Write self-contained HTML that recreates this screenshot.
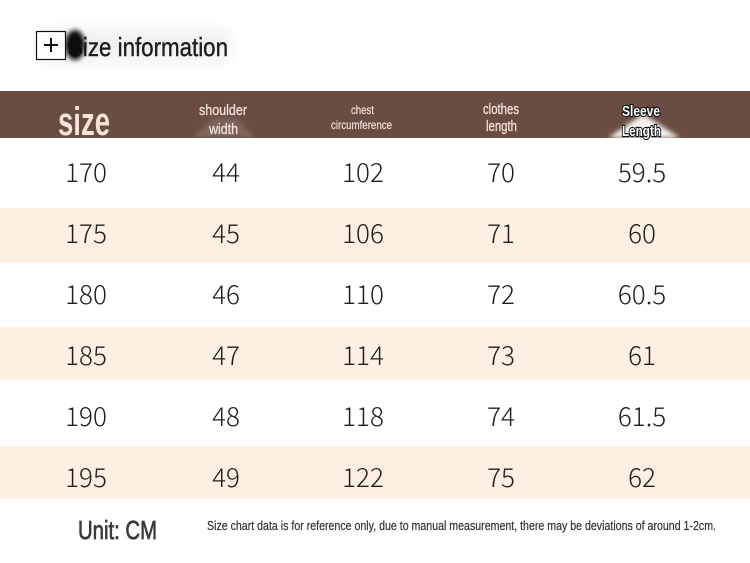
<!DOCTYPE html>
<html><head><meta charset="utf-8"><style>
html,body{margin:0;padding:0;background:#fff;}
svg{display:block;}
</style></head><body>
<svg width="750" height="563" viewBox="0 0 750 563" xmlns="http://www.w3.org/2000/svg" font-family="'Liberation Sans','Noto Sans CJK SC',sans-serif">
<defs>
<filter id="b10" x="-50%" y="-50%" width="200%" height="200%"><feGaussianBlur stdDeviation="8"/></filter>
<filter id="b3" x="-50%" y="-50%" width="200%" height="200%"><feGaussianBlur stdDeviation="2.5"/></filter>
</defs>
<rect width="750" height="563" fill="#fff"/>
<!-- title shadow band -->
<rect x="40" y="30" width="190" height="32" fill="#000" opacity="0.06" filter="url(#b10)"/>
<!-- title -->
<text x="68" y="56" font-size="26" fill="#1d1d1d" stroke="#1d1d1d" stroke-width="0.4" textLength="160" lengthAdjust="spacingAndGlyphs">Size information</text>
<ellipse cx="75" cy="45" rx="10" ry="15" fill="#111" filter="url(#b3)"/>
<rect x="36.5" y="31.5" width="29" height="28" fill="#fff" stroke="#111" stroke-width="1.2"/>
<rect x="44" y="44" width="14" height="2" fill="#111"/>
<rect x="50" y="38" width="2" height="14" fill="#111"/>

<!-- header -->
<rect x="0" y="91" width="750" height="47" fill="#6a4c43"/>
<polygon points="192,138 213,118 236,118 256,138" fill="#8a766e" opacity="0.6" filter="url(#b3)"/>
<polygon points="608,138 643,114 680,138" fill="#f4f2ee" filter="url(#b3)"/>
<rect x="0" y="138" width="750" height="6" fill="#fff"/>
<text x="58" y="135" font-size="40" font-weight="bold" fill="#f6e3da" textLength="52" lengthAdjust="spacingAndGlyphs">size</text>
<g fill="#f2e2da" stroke="#f2e2da" stroke-width="0.3" font-size="15">
<text x="199" y="115" textLength="48" lengthAdjust="spacingAndGlyphs">shoulder</text>
<text x="209" y="134" textLength="29" lengthAdjust="spacingAndGlyphs">width</text>
<text x="483" y="114" textLength="36" lengthAdjust="spacingAndGlyphs">clothes</text>
<text x="486" y="131" textLength="31" lengthAdjust="spacingAndGlyphs">length</text>
</g>
<g fill="#f2e2da" stroke="#f2e2da" stroke-width="0.2" font-size="12">
<text x="351" y="114" textLength="23" lengthAdjust="spacingAndGlyphs">chest</text>
<text x="331" y="129" textLength="61" lengthAdjust="spacingAndGlyphs">circumference</text>
</g>
<g fill="#fff" stroke="#111" stroke-width="2.2" paint-order="stroke" font-size="15" font-weight="bold">
<text x="622" y="116" textLength="38" lengthAdjust="spacingAndGlyphs">Sleeve</text>
<text x="622" y="136" textLength="39" lengthAdjust="spacingAndGlyphs">Length</text>
</g>

<!-- stripes -->
<rect x="0" y="208" width="750" height="54" fill="#fdf0e2"/>
<rect x="0" y="327" width="750" height="53" fill="#fdf0e2"/>
<rect x="0" y="446" width="750" height="53" fill="#fdf0e2"/>

<!-- values -->
<g font-family="'Noto Sans CJK SC','Liberation Sans',sans-serif" font-size="26" font-weight="300" fill="#1e1e1e" text-anchor="middle">
<text x="86" y="182">170</text><text x="226" y="182">44</text><text x="363" y="182">102</text><text x="501" y="182">70</text><text x="642" y="182">59.5</text>
<text x="86" y="243">175</text><text x="226" y="243">45</text><text x="363" y="243">106</text><text x="501" y="243">71</text><text x="642" y="243">60</text>
<text x="86" y="304">180</text><text x="226" y="304">46</text><text x="363" y="304">110</text><text x="501" y="304">72</text><text x="642" y="304">60.5</text>
<text x="86" y="365">185</text><text x="226" y="365">47</text><text x="363" y="365">114</text><text x="501" y="365">73</text><text x="642" y="365">61</text>
<text x="86" y="426">190</text><text x="226" y="426">48</text><text x="363" y="426">118</text><text x="501" y="426">74</text><text x="642" y="426">61.5</text>
<text x="86" y="487">195</text><text x="226" y="487">49</text><text x="363" y="487">122</text><text x="501" y="487">75</text><text x="642" y="487">62</text>
</g>

<!-- footer -->
<text x="78" y="539" font-size="26" fill="#3a3a3a" stroke="#3a3a3a" stroke-width="0.7" textLength="79" lengthAdjust="spacingAndGlyphs">Unit: CM</text>
<text x="207" y="530" font-size="13" fill="#333" stroke="#333" stroke-width="0.2" textLength="509" lengthAdjust="spacingAndGlyphs">Size chart data is for reference only, due to manual measurement, there may be deviations of around 1-2cm.</text>
</svg>
</body></html>
